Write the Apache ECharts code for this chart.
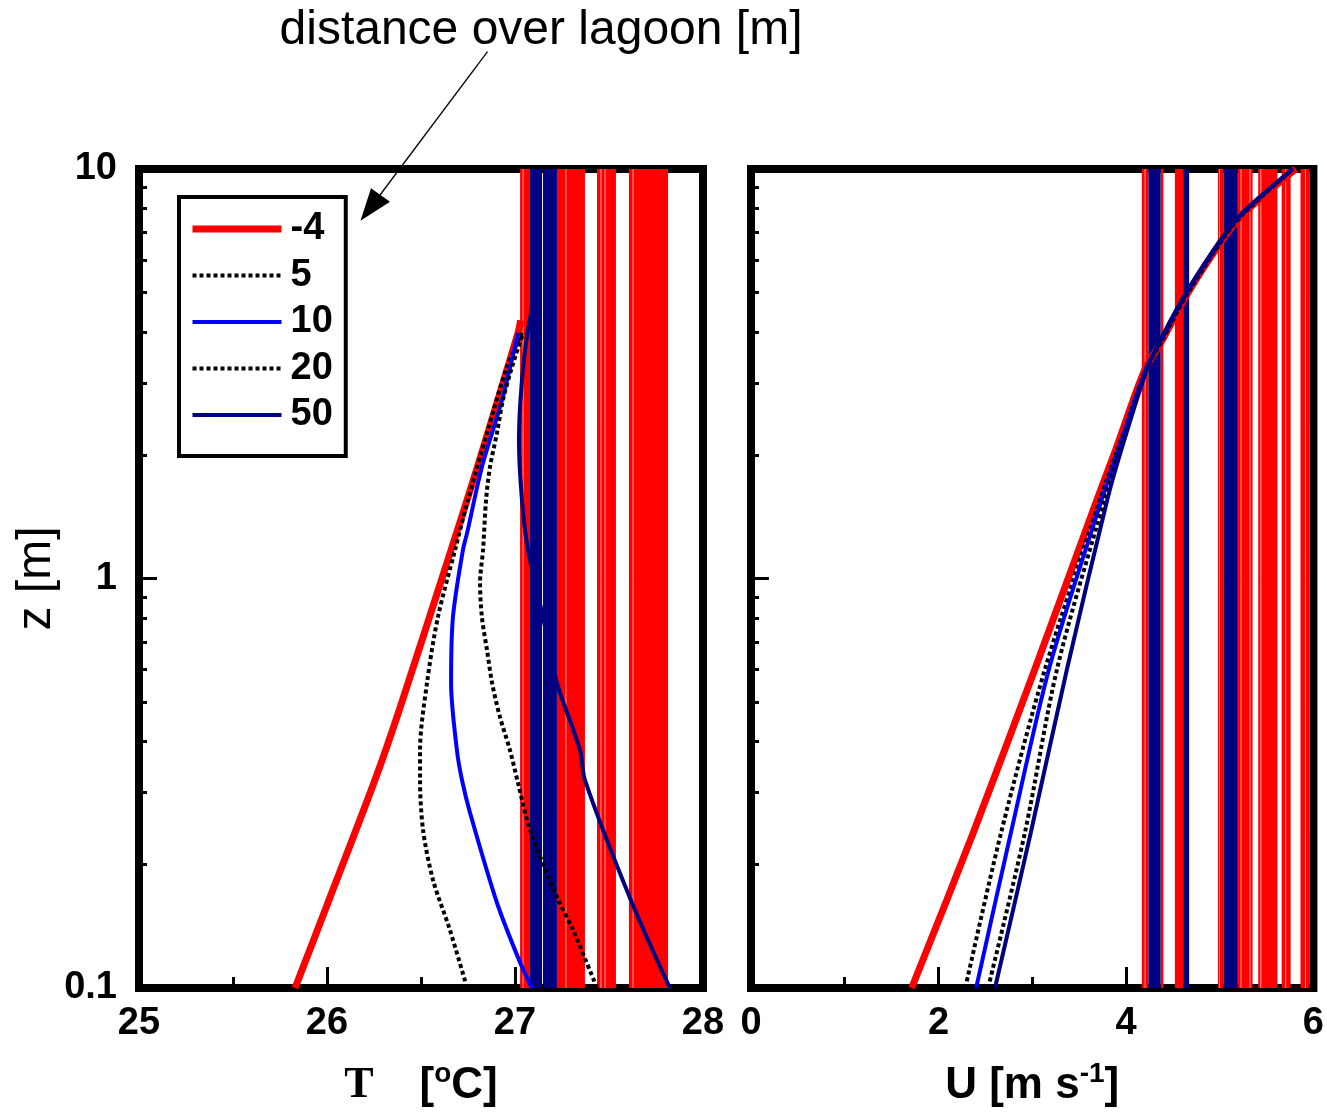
<!DOCTYPE html>
<html><head><meta charset="utf-8">
<script src="https://cdn.jsdelivr.net/npm/echarts@6/dist/echarts.min.js"></script>
<style>html,body{margin:0;padding:0;background:#fff}#c{width:1327px;height:1119px}</style>
</head><body><div id="c"></div><script>
// ---- data ----
const seriesNames = ['-4', '5', '10', '20', '50'];
const tempTicks = [25, 26, 27, 28];
const windTicks = [0, 2, 4, 6];
const zMajor = [0.1, 1, 10];
const zMinor = [0.2, 0.3, 0.4, 0.5, 0.6, 0.7, 0.8, 0.9, 2, 3, 4, 5, 6, 7, 8, 9];

// left panel: temperature [T, z]
const tempM4 = [[25.83,0.1],[26.005,0.1615],[26.255,0.322],[26.39,0.486],[26.66,1.174],[26.80,1.872],[27.016,3.977],[27.03,4.27]];
const temp5  = [[26.745,0.1],[26.654,0.1385],[26.564,0.1835],[26.511,0.243],[26.495,0.322],[26.495,0.381],[26.532,0.556],[26.59,0.805],[26.681,1.174],[26.75,1.555],[26.851,2.266],[26.957,3.285],[27.037,3.977]];
const temp10 = [[27.09,0.1],[27.027,0.1154],[26.904,0.1615],[26.761,0.2676],[26.718,0.322],[26.691,0.381],[26.66,0.556],[26.67,0.805],[26.723,1.174],[26.745,1.291],[26.824,1.872],[26.931,2.729],[27.016,3.977]];
const temp20 = [[27.436,0.1],[27.309,0.1385],[27.223,0.167],[27.08,0.243],[27.016,0.3168],[26.973,0.381],[26.92,0.459],[26.878,0.556],[26.851,0.669],[26.824,0.805],[26.814,0.975],[26.83,1.174],[26.846,1.555],[26.867,1.872],[26.904,2.266],[26.936,2.729],[26.984,3.285],[27.043,3.977]];
const temp50 = [[27.824,0.1],[27.622,0.1615],[27.372,0.322],[27.346,0.381],[27.223,0.556],[27.149,0.805],[27.069,1.174],[27.037,1.555],[27.021,2.178],[27.037,3.053],[27.069,4.045],[27.133,5.67]];

// right panel: wind speed [U, z]
const windM4 = [[1.714,0.1],[2.37,0.239],[3.037,0.608],[3.69,1.555],[3.89,2.06],[4.2,3.23],[4.37,3.76],[4.66,4.98],[5.05,6.82],[5.26,7.81],[5.81,10]];
const wind5  = [[2.286,0.1],[2.667,0.239],[3.143,0.608],[3.72,1.555],[3.91,2.06],[4.21,3.23],[4.37,3.76],[4.66,4.98],[5.05,6.82],[5.26,7.81],[5.78,10]];
const wind10 = [[2.402,0.1],[2.772,0.239],[3.185,0.608],[3.74,1.555],[3.92,2.06],[4.21,3.23],[4.36,3.76],[4.65,4.98],[5.04,6.82],[5.25,7.81],[5.78,10]];
const wind20 = [[2.529,0.1],[2.921,0.239],[3.27,0.608],[3.77,1.555],[3.935,2.06],[4.22,3.23],[4.36,3.76],[4.65,4.98],[5.04,6.82],[5.25,7.81],[5.78,10]];
const wind50 = [[2.603,0.1],[2.984,0.239],[3.376,0.608],[3.80,1.555],[3.95,2.06],[4.22,3.23],[4.35,3.76],[4.64,4.98],[5.03,6.82],[5.24,7.81],[5.78,10]];

// vertical full-height bands [from, to]
const bandsRedT  = [[27.027,27.08],[27.223,27.372],[27.436,27.537],[27.606,27.814]];
const bandsNavyT = [[27.08,27.144],[27.149,27.223]];
const gapsT = [27.043, 27.271, 27.457, 27.479, 27.628];
const bandsRedU  = [[4.169,4.24],[4.37,4.399],[4.522,4.611],[4.981,5.04],[5.193,5.351],[5.411,5.616],[5.661,5.757],[5.862,5.958]];
const bandsNavyU = [[4.24,4.37],[4.611,4.674],[5.04,5.193]];
const gapsU = [4.204, 4.998, 5.228, 5.323, 5.439, 5.704, 5.915];

// ---- styles ----
const styles = {
  '-4': {color:'#ff0000', width:7, type:'solid'},
  '5':  {color:'#000000', width:4, type:[4,3]},
  '10': {color:'#0000ff', width:4, type:'solid'},
  '20': {color:'#000000', width:4, type:[4,3]},
  '50': {color:'#000080', width:4, type:'solid'}
};
const FONT = 'Liberation Sans';
const zMin = zMajor[0], zMax = zMajor[zMajor.length-1];

function bandSeries(data, color, xi, yi) {
  return {
    type:'custom', xAxisIndex:xi, yAxisIndex:yi, silent:true, z:2, clip:false,
    data: data, encode:{x:[0,1]},
    renderItem: function(params, api) {
      const a = api.coord([api.value(0), zMax]);
      const b = api.coord([api.value(1), zMin]);
      return {type:'rect', shape:{x:a[0], y:a[1], width:b[0]-a[0], height:b[1]-a[1]}, style:{fill:color}};
    }
  };
}
function gapSeries(data, xi, yi) {
  return {
    type:'custom', xAxisIndex:xi, yAxisIndex:yi, silent:true, z:3, clip:false,
    data: data.map(v => [v]), encode:{x:0},
    renderItem: function(params, api) {
      const a = api.coord([api.value(0), zMax]);
      const b = api.coord([api.value(0), zMin]);
      return {type:'line', shape:{x1:a[0], y1:a[1], x2:b[0], y2:b[1]}, style:{stroke:'#ffffff', lineWidth:1, opacity:0.6}};
    }
  };
}
function curve(name, data, xi, yi) {
  const s = styles[name];
  return {
    type:'line', name:name, xAxisIndex:xi, yAxisIndex:yi, data:data,
    symbol:'none', showSymbol:false, smooth:0.3, z:5, silent:true,
    lineStyle:{color:s.color, width:s.width, type:s.type, cap:'butt'},
    itemStyle:{color:s.color}
  };
}

const tickStyle = {color:'#000', width:3};
function xAxisCfg(grid, min, max, interval, name, rich) {
  return {
    type:'value', gridIndex:grid, min:min, max:max, interval:interval,
    axisLine:{show:false, onZero:false},
    axisTick:{show:true, inside:true, length:21, lineStyle:tickStyle},
    minorTick:{show:true, splitNumber:2, length:11, lineStyle:tickStyle},
    splitLine:{show:false}, minorSplitLine:{show:false},
    axisLabel:{fontSize:38, fontWeight:'bold', color:'#000', margin:17, fontFamily:FONT},
    name:name, nameLocation:'middle', nameGap:72,
    nameTextStyle:{color:'#000', rich:rich}
  };
}
function yLogAxis(grid, showLabel, withName) {
  const a = {
    type:'log', logBase:10, gridIndex:grid, min:zMin, max:zMax, position:'left',
    axisLine:{show:false, onZero:false},
    axisTick:{show:true, inside:true, length:18, lineStyle:tickStyle},
    splitLine:{show:false},
    axisLabel:{show:showLabel, fontSize:38, fontWeight:'bold', color:'#000', margin:22, fontFamily:FONT}
  };
  if (withName) {
    a.name = 'z [m]'; a.nameLocation = 'middle'; a.nameGap = 74; a.nameRotate = 90;
    a.nameTextStyle = {fontSize:48, color:'#000', fontFamily:FONT};
  }
  return a;
}
function yMinorAxis(grid) {
  return {
    type:'value', gridIndex:grid, min:Math.log10(zMin), max:Math.log10(zMax), position:'left', offset:0,
    axisLine:{show:false, onZero:false},
    axisTick:{show:true, inside:true, length:8, lineStyle:tickStyle, customValues: zMinor.map(v => Math.log10(v))},
    axisLabel:{show:false}, splitLine:{show:false}
  };
}

const richBase = {
  b:{fontFamily:FONT, fontWeight:'bold', fontSize:44, lineHeight:52, color:'#000'},
  t:{fontFamily:'Liberation Serif', fontWeight:'bold', fontSize:44, lineHeight:52, color:'#000'},
  s:{fontSize:44, lineHeight:52, width:46},
  sup:{fontFamily:FONT, fontWeight:'bold', fontSize:28, lineHeight:32, verticalAlign:'top', color:'#000'}
};

const option = {
  animation:false,
  backgroundColor:'#ffffff',
  textStyle:{fontFamily:FONT},
  grid:[
    {left:139, top:169, width:564, height:819, show:true, borderColor:'#000', borderWidth:8, backgroundColor:'rgba(0,0,0,0)'},
    {left:751, top:169, width:567, height:819, show:true, borderColor:'#000', borderWidth:8, backgroundColor:'rgba(0,0,0,0)'}
  ],
  xAxis:[
    xAxisCfg(0, tempTicks[0], tempTicks[tempTicks.length-1], 1, '{t|T}{s|}{b|[}{sup|o}{b|C]}', richBase),
    xAxisCfg(1, windTicks[0], windTicks[windTicks.length-1], 2, '{b|U [m s}{sup|-1}{b|]}', richBase)
  ],
  yAxis:[ yLogAxis(0, true, true), yMinorAxis(0), yLogAxis(1, false, false), yMinorAxis(1) ],
  legend:{
    data:seriesNames, orient:'vertical', left:179, top:197, selectedMode:false,
    itemWidth:89, itemHeight:14, itemGap:6.5,
    padding:[12, 13, 21, 10],
    borderColor:'#000', borderWidth:4, backgroundColor:'#fff',
    textStyle:{fontSize:38, fontWeight:'bold', color:'#000', fontFamily:FONT, lineHeight:40, padding:[0,0,0,4]},
    lineStyle:{width:'inherit', type:'inherit'},
    itemStyle:{opacity:0, borderWidth:0}
  },
  graphic:[
    {type:'text', style:{text:'distance over lagoon [m]', x:541, y:31, align:'center', verticalAlign:'middle', fontSize:48, fontFamily:FONT, fill:'#000'}},
    {type:'line', shape:{x1:487.5, y1:51.7, x2:380, y2:195}, style:{stroke:'#000', lineWidth:1.3}},
    {type:'polygon', shape:{points:[[360.5,220.7],[371,188.3],[390,201.7]]}, style:{fill:'#000'}}
  ],
  series:[
    bandSeries(bandsRedT, '#ff0000', 0, 0),
    bandSeries(bandsNavyT, '#000080', 0, 0),
    gapSeries(gapsT, 0, 0),
    bandSeries(bandsRedU, '#ff0000', 1, 2),
    bandSeries(bandsNavyU, '#000080', 1, 2),
    gapSeries(gapsU, 1, 2),
    curve('-4', tempM4, 0, 0), curve('5', temp5, 0, 0), curve('10', temp10, 0, 0), curve('20', temp20, 0, 0), curve('50', temp50, 0, 0),
    curve('-4', windM4, 1, 2), curve('5', wind5, 1, 2), curve('10', wind10, 1, 2), curve('20', wind20, 1, 2), curve('50', wind50, 1, 2)
  ]
};
const chart = echarts.init(document.getElementById('c'));
chart.setOption(option);
</script></body></html>
